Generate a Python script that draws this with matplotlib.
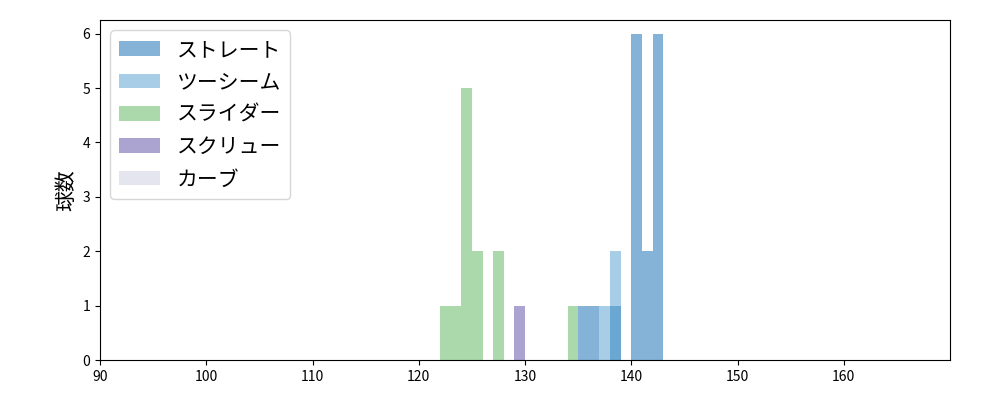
import numpy as np
import matplotlib
matplotlib.use("Agg")
from matplotlib import pyplot as plt

plt.rcParams['font.family'] = ['Noto Sans CJK JP', 'DejaVu Sans']

# 球速データ (km/h)
straight = [135.5, 136.5, 138.5, 140.2, 140.4, 140.5, 140.6, 140.7, 140.9,
            141.3, 141.6, 142.1, 142.3, 142.4, 142.5, 142.7, 142.9]
two_seam = [137.5, 138.3, 138.7]
slider = [122.5, 123.5, 124.1, 124.3, 124.5, 124.7, 124.9, 125.3, 125.7,
          127.3, 127.7, 134.5]
screw = [129.5]
curve = []

names = ["ストレート", "ツーシーム", "スライダー", "スクリュー", "カーブ"]
series = [straight, two_seam, slider, screw, curve]
colors = ["#0b69b1", "#519dd1", "#5bb55b", "#594ba5", "#cdcde1"]

bins = np.arange(90, 171, 1)
fig, ax = plt.subplots(figsize=(10, 4), dpi=100)
for data, name, c in zip(series, names, colors):
    ax.hist(data, bins=bins, color=c, alpha=0.5, label=name)

ax.set_xlim(90, 170)
ax.set_ylim(0, 6.25)
ax.set_xticks(range(90, 170, 10))
ax.set_ylabel("球数", fontsize=15)
ax.legend(loc="upper left", fontsize=15)
plt.subplots_adjust(left=0.1, right=0.95, top=0.95, bottom=0.1)
plt.savefig("out.png")
